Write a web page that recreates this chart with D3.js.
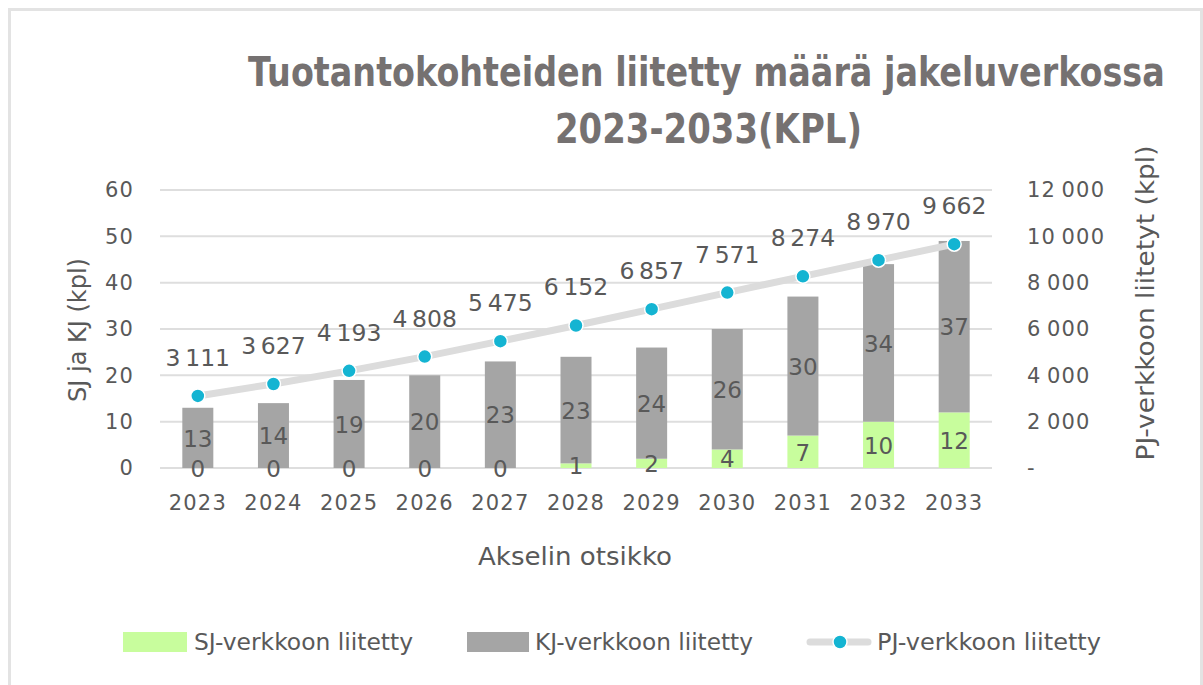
<!DOCTYPE html>
<html>
<head>
<meta charset="utf-8">
<script src="https://cdn.jsdelivr.net/npm/d3@7"></script>
<style>
  body { margin: 0; background: #fff; }
  svg text { font-family: "DejaVu Sans", "Liberation Sans", sans-serif; }
</style>
</head>
<body>
<div id="chart"></div>
<script>
// Data
const years = ["2023", "2024", "2025", "2026", "2027", "2028", "2029", "2030", "2031", "2032", "2033"];
const sjValues = [0, 0, 0, 0, 0, 1, 2, 4, 7, 10, 12];
const kjValues = [13, 14, 19, 20, 23, 23, 24, 26, 30, 34, 37];
const pjValues = [3111, 3627, 4193, 4808, 5475, 6152, 6857, 7571, 8274, 8970, 9662];
const leftTicks = [0, 10, 20, 30, 40, 50, 60];
const rightTicks = [0, 2000, 4000, 6000, 8000, 10000, 12000];
const seriesNames = ["SJ-verkkoon liitetty", "KJ-verkkoon liitetty", "PJ-verkkoon liitetty"];

const width = 1203, height = 685;
const colGreen = "#c8fd9d", colGray = "#a5a5a5", colDot = "#14b4d2", colLine = "#dcdcdc";
const textCol = "#595959";

const svg = d3.select("#chart").append("svg")
    .attr("width", width)
    .attr("height", height);

// outer chart border
svg.append("rect")
    .attr("x", 9.5).attr("y", 9.5)
    .attr("width", 1192).attr("height", 700)
    .attr("fill", "none")
    .attr("stroke", "#e3e3e3")
    .attr("stroke-width", 3);

const plot = { left: 160, right: 992, top: 190, bottom: 468 };

const x = d3.scaleBand()
    .domain(years)
    .range([plot.left, plot.right])
    .paddingInner(0.59)
    .paddingOuter(0.295);

const yL = d3.scaleLinear().domain([0, 60]).range([plot.bottom, plot.top]);
const yR = d3.scaleLinear().domain([0, 12000]).range([plot.bottom, plot.top]);

const fmt = d3.formatLocale({ decimal: ",", thousands: "\u2009", grouping: [3], currency: ["", " €"] }).format(",d");

// gridlines
svg.append("g")
    .selectAll("line")
    .data(leftTicks)
    .join("line")
    .attr("x1", plot.left).attr("x2", plot.right)
    .attr("y1", d => yL(d)).attr("y2", d => yL(d))
    .attr("stroke", "#dedede")
    .attr("stroke-width", 2);

// left axis
const leftAxis = svg.append("g")
    .attr("transform", `translate(${plot.left - 26},0)`)
    .call(d3.axisLeft(yL).tickValues(leftTicks).tickSize(0).tickPadding(0));
leftAxis.select(".domain").remove();
leftAxis.selectAll("text")
    .attr("fill", textCol)
    .style("font-size", "21px")
    .style("letter-spacing", "1.2px");

// right axis
const rightAxis = svg.append("g")
    .attr("transform", `translate(1027,0)`)
    .call(d3.axisRight(yR).tickValues(rightTicks).tickSize(0).tickPadding(0)
        .tickFormat(d => d === 0 ? "-" : fmt(d)));
rightAxis.select(".domain").remove();
rightAxis.selectAll("text")
    .attr("fill", textCol)
    .style("font-size", "21px")
    .style("letter-spacing", "1.2px");

// x axis
const xAxis = svg.append("g")
    .attr("transform", `translate(0,${plot.bottom + 27})`)
    .call(d3.axisBottom(x).tickSize(0).tickPadding(0));
xAxis.select(".domain").remove();
xAxis.selectAll("text")
    .attr("fill", textCol)
    .style("font-size", "21px")
    .style("letter-spacing", "1.2px");

// stacked bars
const rows = years.map((y, i) => ({ year: y, sj: sjValues[i], kj: kjValues[i] }));
const stack = d3.stack().keys(["sj", "kj"])(rows);
const colors = { sj: colGreen, kj: colGray };

stack.forEach(layer => {
    svg.append("g")
        .selectAll("rect")
        .data(layer)
        .join("rect")
        .attr("x", d => x(d.data.year))
        .attr("width", x.bandwidth())
        .attr("y", d => yL(d[1]))
        .attr("height", d => yL(d[0]) - yL(d[1]))
        .attr("fill", colors[layer.key]);
});

// bar labels
stack.forEach(layer => {
    svg.append("g")
        .selectAll("text")
        .data(layer)
        .join("text")
        .attr("x", d => x(d.data.year) + x.bandwidth() / 2)
        .attr("y", d => (yL(d[0]) + yL(d[1])) / 2)
        .attr("dy", "0.38em")
        .attr("text-anchor", "middle")
        .attr("fill", textCol)
        .style("font-size", "23px")
        .text(d => d.data[layer.key]);
});

// PJ line on right axis
const cx = (d, i) => x(years[i]) + x.bandwidth() / 2;
svg.append("path")
    .datum(pjValues)
    .attr("d", d3.line().x(cx).y(d => yR(d)))
    .attr("fill", "none")
    .attr("stroke", colLine)
    .attr("stroke-width", 7)
    .attr("stroke-linecap", "round");

svg.append("g")
    .selectAll("circle")
    .data(pjValues)
    .join("circle")
    .attr("cx", cx)
    .attr("cy", d => yR(d))
    .attr("r", 7)
    .attr("fill", colDot)
    .attr("stroke", "#fff")
    .attr("stroke-width", 1.5);

svg.append("g")
    .selectAll("text")
    .data(pjValues)
    .join("text")
    .attr("x", cx)
    .attr("y", d => yR(d) - 30)
    .attr("text-anchor", "middle")
    .attr("fill", textCol)
    .style("font-size", "23.5px")
    .text(d => fmt(d));

// title: condensed look by squeezing the text horizontally to the reference width
function squeezedText(parent, str, left, baseline, targetW) {
    const t = parent.append("text").attr("x", 0).attr("y", 0).text(str);
    const w = t.node().getComputedTextLength();
    t.attr("transform", `translate(${left},${baseline}) scale(${targetW / w},1)`);
    return t;
}
const title = svg.append("g")
    .attr("fill", "#757171")
    .style("font-weight", "bold")
    .style("font-size", "40px");
squeezedText(title, "Tuotantokohteiden liitetty määrä jakeluverkossa", 248, 86, 917);
squeezedText(title, "2023-2033(KPL)", 555, 143, 307);

// axis titles
svg.append("text")
    .attr("transform", "translate(86,330) rotate(-90)")
    .attr("text-anchor", "middle")
    .attr("fill", textCol)
    .style("font-size", "24px")
    .text("SJ ja KJ  (kpl)");

svg.append("text")
    .attr("transform", "translate(1154,303) rotate(-90)")
    .attr("text-anchor", "middle")
    .attr("fill", textCol)
    .style("font-size", "24px")
    .attr("textLength", 315)
    .attr("lengthAdjust", "spacingAndGlyphs")
    .text("PJ-verkkoon liitetyt  (kpl)");

svg.append("text")
    .attr("x", 575)
    .attr("y", 565)
    .attr("text-anchor", "middle")
    .attr("fill", textCol)
    .style("font-size", "25px")
    .attr("textLength", 194)
    .attr("lengthAdjust", "spacingAndGlyphs")
    .text("Akselin otsikko");

// legend
const legend = svg.append("g");
legend.append("rect").attr("x", 123).attr("y", 632).attr("width", 64).attr("height", 20).attr("fill", colGreen);
legend.append("rect").attr("x", 467).attr("y", 632).attr("width", 62).attr("height", 20).attr("fill", colGray);
legend.append("line").attr("x1", 810).attr("x2", 868).attr("y1", 642).attr("y2", 642)
    .attr("stroke", colLine).attr("stroke-width", 7).attr("stroke-linecap", "round");
legend.append("circle").attr("cx", 840).attr("cy", 642).attr("r", 7)
    .attr("fill", colDot).attr("stroke", "#fff").attr("stroke-width", 1.5);
const legendX = [194, 535, 877], legendW = [219, 218, 224];
legendX.forEach((lx, i) => {
    legend.append("text")
        .attr("x", lx).attr("y", 650)
        .attr("fill", textCol)
        .style("font-size", "23px")
        .attr("textLength", legendW[i])
        .attr("lengthAdjust", "spacingAndGlyphs")
        .text(seriesNames[i]);
});
</script>
</body>
</html>
